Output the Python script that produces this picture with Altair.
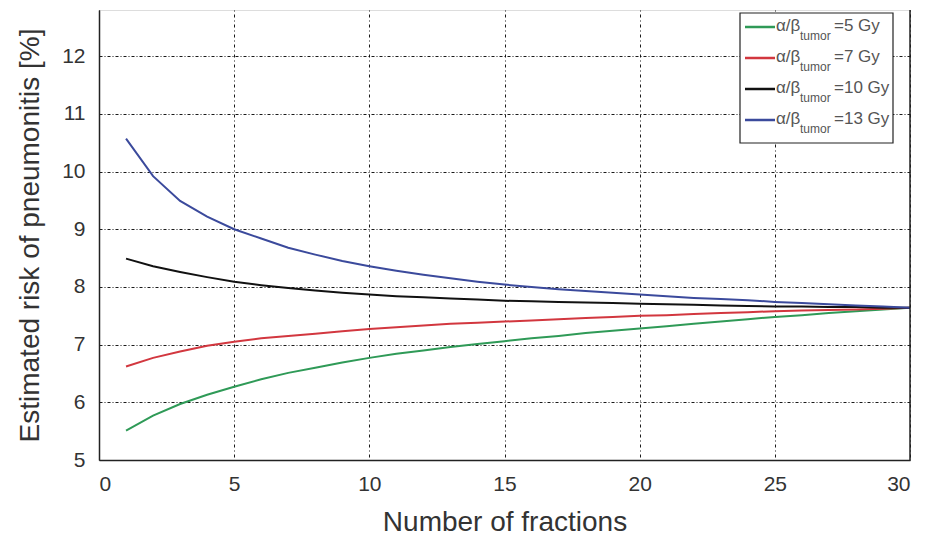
import altair as alt
import pandas as pd

fractions = list(range(1, 31))

green_5gy = [5.51, 5.77, 5.97, 6.13, 6.27, 6.40, 6.51, 6.60, 6.69, 6.77,
             6.84, 6.90, 6.96, 7.01, 7.06, 7.11, 7.15, 7.20, 7.24, 7.28,
             7.32, 7.36, 7.40, 7.44, 7.48, 7.51, 7.55, 7.58, 7.61, 7.64]
red_7gy = [6.62, 6.77, 6.88, 6.98, 7.05, 7.11, 7.15, 7.19, 7.23, 7.27,
           7.30, 7.33, 7.36, 7.38, 7.40, 7.42, 7.44, 7.46, 7.48, 7.50,
           7.51, 7.53, 7.55, 7.56, 7.58, 7.59, 7.60, 7.61, 7.62, 7.64]
black_10gy = [8.49, 8.36, 8.26, 8.17, 8.09, 8.03, 7.98, 7.94, 7.90, 7.87,
              7.84, 7.82, 7.80, 7.78, 7.76, 7.75, 7.74, 7.73, 7.72, 7.71,
              7.70, 7.69, 7.68, 7.67, 7.66, 7.66, 7.65, 7.65, 7.64, 7.64]
blue_13gy = [10.57, 9.92, 9.49, 9.22, 9.00, 8.84, 8.68, 8.56, 8.45, 8.36,
             8.28, 8.21, 8.15, 8.09, 8.04, 8.00, 7.96, 7.93, 7.90, 7.87,
             7.84, 7.81, 7.79, 7.77, 7.74, 7.72, 7.70, 7.68, 7.66, 7.64]

series_names = ["5 Gy", "7 Gy", "10 Gy", "13 Gy"]
series_values = [green_5gy, red_7gy, black_10gy, blue_13gy]
series_colors = ["#2f9a57", "#d2373f", "#111111", "#3b4a9c"]

x_ticks = [0, 5, 10, 15, 20, 25, 30]
y_ticks = [5, 6, 7, 8, 9, 10, 11, 12]

rows = []
for name, vals in zip(series_names, series_values):
    for n, v in zip(fractions, vals):
        rows.append({"n": n, "risk": v, "series": name})
df = pd.DataFrame(rows)

FONT = "Liberation Sans"
TXT = "#333333"

x_enc = alt.X("n:Q", scale=alt.Scale(domain=[0, 30], nice=False),
              axis=alt.Axis(values=x_ticks, title="Number of fractions",
                            grid=True, gridColor="#000000", gridDash=[1, 3, 3, 3],
                            gridOpacity=0.9, domainColor="#222222", domainWidth=1.5,
                            ticks=False, labelPadding=13, labelFontSize=21,
                            titleFontSize=28, titlePadding=14, labelColor=TXT,
                            titleColor=TXT, labelFont=FONT, titleFont=FONT,
                            titleFontWeight="normal"))
y_enc = alt.Y("risk:Q", scale=alt.Scale(domain=[5, 12.8], nice=False, zero=False),
              axis=alt.Axis(values=y_ticks, title="Estimated risk of pneumonitis [%]",
                            grid=True, gridColor="#000000", gridDash=[3, 2, 1, 2],
                            gridOpacity=0.9, domainColor="#222222", domainWidth=1.5,
                            ticks=False, labelPadding=14, labelFontSize=21,
                            titleFontSize=28, titlePadding=17, labelColor=TXT,
                            titleColor=TXT, labelFont=FONT, titleFont=FONT,
                            titleFontWeight="normal"))

lines = alt.Chart(df).mark_line(strokeWidth=2, clip=True).encode(
    x=x_enc, y=y_enc,
    color=alt.Color("series:N", scale=alt.Scale(domain=series_names, range=series_colors),
                    legend=None),
    detail="series:N",
)

right_edge = alt.Chart(pd.DataFrame({"n": [30]})).mark_rule(
    color="#222222", strokeWidth=1.5).encode(
    x=alt.X("n:Q"), y=alt.value(0), y2=alt.value(450))

layers = [lines, right_edge]

# custom legend (with subscript)
lx0, ly0 = 641, 3
box = alt.Chart(pd.DataFrame({"a": [0]})).mark_rect(
    fill="white", stroke="#222222", strokeWidth=1.2).encode(
    x=alt.value(lx0), x2=alt.value(lx0 + 153),
    y=alt.value(ly0), y2=alt.value(ly0 + 130))
layers.append(box)
row_y = [17, 48, 79, 110]
for name, col, ry in zip(series_names, series_colors, row_y):
    layers.append(alt.Chart(pd.DataFrame({"a": [0]})).mark_rule(
        color=col, strokeWidth=2.5).encode(
        x=alt.value(lx0 + 5), x2=alt.value(lx0 + 35),
        y=alt.value(ry), y2=alt.value(ry)))
    layers.append(alt.Chart(pd.DataFrame({"a": [0]})).mark_text(
        text="α/β", font=FONT, fontSize=17, color="#555555",
        align="left", baseline="middle").encode(
        x=alt.value(lx0 + 36), y=alt.value(ry - 1)))
    layers.append(alt.Chart(pd.DataFrame({"a": [0]})).mark_text(
        text="tumor", font=FONT, fontSize=12, color="#555555",
        align="left", baseline="middle").encode(
        x=alt.value(lx0 + 60), y=alt.value(ry + 9)))
    layers.append(alt.Chart(pd.DataFrame({"a": [0]})).mark_text(
        text="=" + name, font=FONT, fontSize=17, color="#555555",
        align="left", baseline="middle").encode(
        x=alt.value(lx0 + 94), y=alt.value(ry - 1)))

chart = alt.layer(*layers).properties(
    width=811, height=450,
    autosize=alt.AutoSizeParams(type="none"),
    padding={"left": 91, "top": 2, "right": 18, "bottom": 78},
).configure_view(stroke=None).configure(background="white")

chart.save("out.html", embed_options={"renderer": "svg", "actions": False})
